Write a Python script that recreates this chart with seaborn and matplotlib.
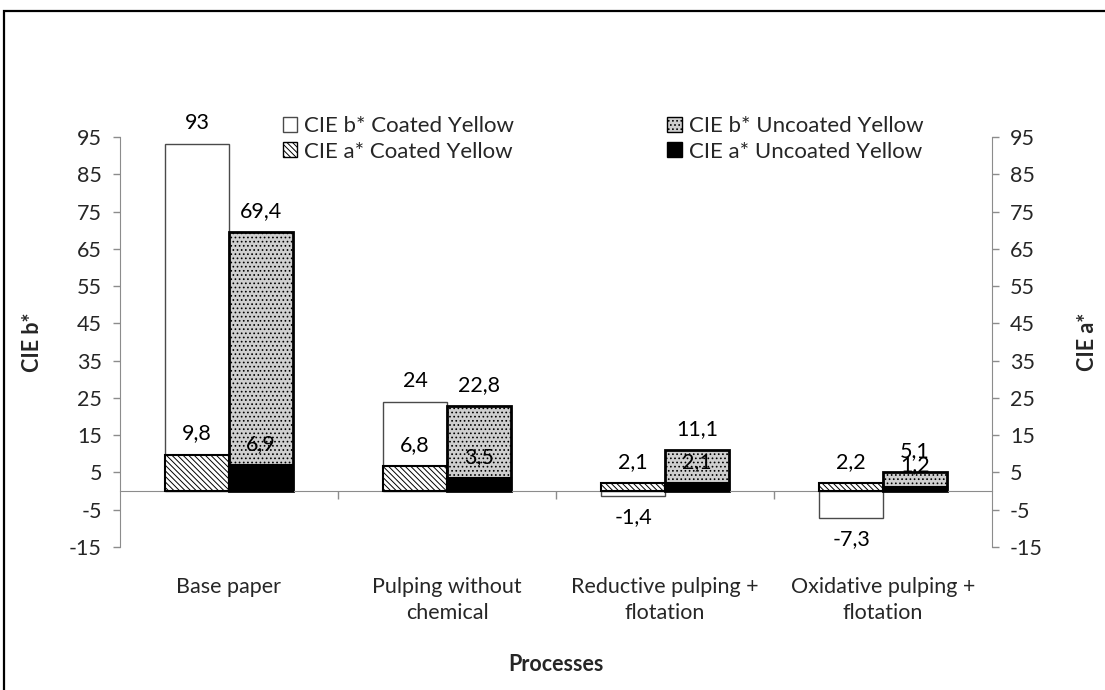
import matplotlib
matplotlib.use("Agg")
import matplotlib.pyplot as plt
from matplotlib.patches import Patch, Rectangle
from matplotlib.ticker import FixedLocator
import seaborn as sns
import pandas as pd

# ---- data ----
processes = ["Base paper", "Pulping without\nchemical",
             "Reductive pulping +\nflotation", "Oxidative pulping +\nflotation"]
b_coated = [93, 24, -1.4, -7.3]
b_uncoated = [69.4, 22.8, 11.1, 5.1]
a_coated = [9.8, 6.8, 2.1, 2.2]
a_uncoated = [6.9, 3.5, 2.1, 1.2]
yticks = [-15, -5, 5, 15, 25, 35, 45, 55, 65, 75, 85, 95]
b_names = ["CIE b* Coated Yellow", "CIE b* Uncoated Yellow"]
a_names = ["CIE a* Coated Yellow", "CIE a* Uncoated Yellow"]

df_b = pd.DataFrame({
    "process": processes * 2,
    "series": [b_names[0]] * 4 + [b_names[1]] * 4,
    "value": b_coated + b_uncoated,
})
df_a = pd.DataFrame({
    "process": processes * 2,
    "series": [a_names[0]] * 4 + [a_names[1]] * 4,
    "value": a_coated + a_uncoated,
})

sns.set_style("white")
plt.rcParams["font.family"] = ["Lato", "DejaVu Sans"]
plt.rcParams["hatch.linewidth"] = 0.7
plt.rcParams["axes.unicode_minus"] = False
FS = 15.5
DOT_FACE = "#cfcfcf"

fig = plt.figure(figsize=(11.05, 6.9), dpi=100)
ax = fig.add_axes([0.1086, 0.2072, 0.7891, 0.5942])

GRAY = "#8c8c8c"
BW = 0.585

sns.barplot(data=df_b, x="process", y="value", hue="series", hue_order=b_names,
            order=processes, width=BW, ax=ax, palette=["white", DOT_FACE],
            saturation=1, legend=False, errorbar=None)
ax2 = ax.twinx()
sns.barplot(data=df_a, x="process", y="value", hue="series", hue_order=a_names,
            order=processes, width=BW, ax=ax2, palette=["white", "black"],
            saturation=1, legend=False, errorbar=None)

# styles
for p in ax.containers[0]:
    p.set_edgecolor("#4a4a4a"); p.set_linewidth(1.0)
for p in ax.containers[1]:
    p.set_edgecolor("black"); p.set_linewidth(2.0); p.set_hatch("....")
for p in ax2.containers[0]:
    p.set_edgecolor("black"); p.set_linewidth(1.5); p.set_hatch("\\\\\\\\\\\\")
for p in ax2.containers[1]:
    p.set_edgecolor("black"); p.set_linewidth(1.5)

def fmt(v):
    return f"{v:g}".replace(".", ",")

for a in (ax, ax2):
    for c in a.containers:
        a.bar_label(c, labels=[fmt(p.get_height()) for p in c], padding=8,
                    fontsize=FS, color="black")

for a in (ax, ax2):
    a.set_ylim(-15, 95)
    a.set_xlim(-0.5, 3.5)
    a.set_yticks(yticks)
    a.set_ylabel("")
    a.set_xlabel("")
    a.spines["top"].set_visible(False)

ax.tick_params(axis="y", direction="out", length=5, color=GRAY, width=1,
               labelsize=FS, pad=8, left=True, right=False)
ax2.tick_params(axis="y", direction="out", length=5, color=GRAY, width=1,
                labelsize=FS, pad=8, right=True, left=False)
ax.spines["left"].set_color(GRAY)
ax.spines["right"].set_visible(False)
ax2.spines["right"].set_color(GRAY)
ax2.spines["left"].set_visible(False)
ax2.spines["bottom"].set_visible(False)

ax.spines["bottom"].set_position(("data", 0))
ax.spines["bottom"].set_color(GRAY)
ax.set_xticks(range(len(processes)))
ax.set_xticklabels(processes, fontsize=FS, linespacing=1.35)
ax.xaxis.set_minor_locator(FixedLocator([0.5, 1.5, 2.5]))
ax.tick_params(axis="x", which="major", length=0, pad=62)
ax.tick_params(axis="x", which="minor", direction="out", length=6,
               color=GRAY, width=1, bottom=True)
ax2.tick_params(axis="x", which="both", bottom=False, labelbottom=False)

ax.set_ylabel("CIE b*", fontsize=FS, fontweight="bold")
ax.yaxis.set_label_coords(-0.088, 0.5)
ax2.set_ylabel("CIE a*", fontsize=FS, fontweight="bold", rotation=90)
ax2.yaxis.set_label_coords(1.097, 0.5)
ax.set_xlabel("Processes", fontsize=FS, fontweight="bold")
ax.xaxis.set_label_coords(0.5, -0.26)

# legend
handles = [
    Patch(facecolor="white", edgecolor="#4a4a4a", linewidth=1.0, label=b_names[0]),
    Patch(facecolor="white", edgecolor="black", linewidth=1.0, hatch="\\\\\\\\\\\\", label=a_names[0]),
    Patch(facecolor=DOT_FACE, edgecolor="black", linewidth=1.0, hatch="....", label=b_names[1]),
    Patch(facecolor="black", edgecolor="black", linewidth=1.0, label=a_names[1]),
]
fig.legend(handles=handles, loc="upper left", bbox_to_anchor=(283 / 1105, 1 - 116 / 690),
           ncol=2, frameon=False, fontsize=16, handlelength=0.65, handleheight=0.65,
           handletextpad=0.3, columnspacing=6.9, labelspacing=0.25, borderpad=0,
           borderaxespad=0)

# outer frame
fig.patches.append(Rectangle((4 / 1105, -0.05), 1.2, 1.05 - 11.5 / 690,
                             transform=fig.transFigure, fill=False,
                             edgecolor="black", linewidth=1.6))

fig.savefig("out.png", dpi=100)
